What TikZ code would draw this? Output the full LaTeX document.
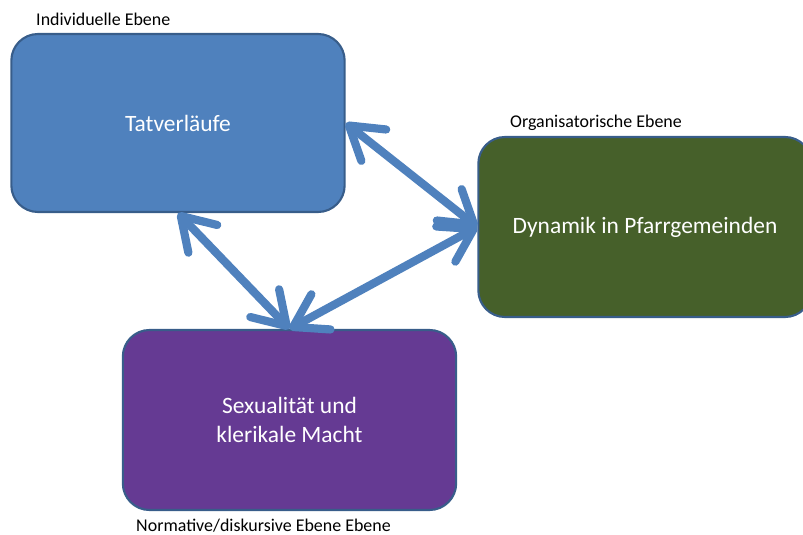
\documentclass[tikz,border=0pt]{standalone}
\usepackage{fontspec}
\setmainfont{Carlito}
\usepackage{tikz}
\usetikzlibrary{arrows.meta,calc}
\usepackage{xcolor}
\definecolor{EbeneBlau}{HTML}{4F81BD}
\definecolor{EbeneRand}{HTML}{385D8A}
\definecolor{EbeneGruen}{HTML}{46602A}
\definecolor{EbeneLila}{HTML}{653A93}
\tikzset{
    ebene/.style={draw=EbeneRand, line width=1.8pt, rounded corners=0.8cm,
     minimum width=10cm, minimum height=5.4cm, inner sep=0pt, align=center,
     text=white, font=\fontsize{20}{24}\selectfont},
    ebenetitel/.style={anchor=base west, inner sep=0pt, font=\fontsize{15.3}{18}\selectfont},
    pfeil/.style={line width=7pt, draw=EbeneBlau,
     {Straight Barb[length=0.95cm,width=1.2cm,round]}-{Straight Barb[length=0.95cm,width=1.2cm,round]}}
}

\begin{document}
\begin{tikzpicture}[x=0.03cm,y=-0.03cm]
    \clip (0,0) rectangle (803,535);
    \node[ebene, fill=EbeneBlau, minimum height=5.34cm] (tat) at (178,123) {Tatverläufe};
    \node[ebene, fill=EbeneGruen] (dyn) at (645,227) {Dynamik in Pfarrgemeinden};
    \node[ebene, fill=EbeneLila] (sex) at (289.5,420) {Sexualität und\\klerikale Macht};
    \node[ebenetitel] (tattitel) at (36,26) {Individuelle Ebene};
    \node[ebenetitel] (dyntitel) at (510,127) {Organisatorische Ebene};
    \node[ebenetitel] (sextitel) at (136,531) {Normative/diskursive Ebene Ebene};
    \foreach \p/\q in {tat.east/dyn.west,tat.south/sex.north,dyn.west/sex.north} {
     \draw[pfeil] (\p) -- (\q);
    }
\end{tikzpicture}
\end{document}
